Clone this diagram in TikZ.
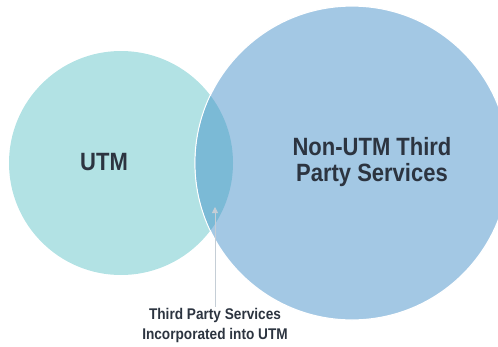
\documentclass[tikz,border=0pt]{standalone}
\usepackage{fontspec}
\setmainfont[FakeStretch=0.88]{Liberation Sans}
\usetikzlibrary{positioning,arrows.meta}

\definecolor{utmfill}{HTML}{B2E2E4}
\definecolor{tpsfill}{HTML}{A3C8E4}
\definecolor{bothfill}{HTML}{7BBAD6}
\definecolor{txtc}{HTML}{2C3440}
\definecolor{arrc}{HTML}{C5CED6}

\begin{document}
\begin{tikzpicture}[x=1pt,y=-1pt,
set/.style={circle,inner sep=0pt,outer sep=0pt},
lbl/.style={font=\bfseries,text=txtc,align=center}]
\useasboundingbox (0,0) rectangle (498,346);

 \begin{scope}
 \clip (0,0) rectangle (498,346);
 \node[set,fill=utmfill,minimum size=224pt] (utm) at (121,163) {};
 \node[set,fill=tpsfill,draw=white,line width=1.2pt,minimum size=314pt] (tps) at (352,163) {};
 % the shared part of both sets
 \begin{scope}
 \clip (utm.center) circle (112);
 \fill[bothfill] (tps.center) circle (156.4);
 \end{scope}
 \end{scope}

 \node[lbl,font=\bfseries\fontsize{25}{26}\selectfont] (utmtxt) at (104,162) {UTM};
 \node[lbl,font=\bfseries\fontsize{25}{26}\selectfont] (tpstxt) at (372,162)
 {Non-UTM Third\\Party Services};
 \node[lbl,font=\bfseries\fontsize{15.5}{20}\selectfont,inner sep=1pt] (inc) at (215,325)
 {Third Party Services\\Incorporated into UTM};

 \coordinate (tip) at (215,207);
 \draw[arrc,line width=0.8pt,-{Triangle[width=6pt,length=6pt]}] (inc.north -| tip) -- (tip);
\end{tikzpicture}
\end{document}
